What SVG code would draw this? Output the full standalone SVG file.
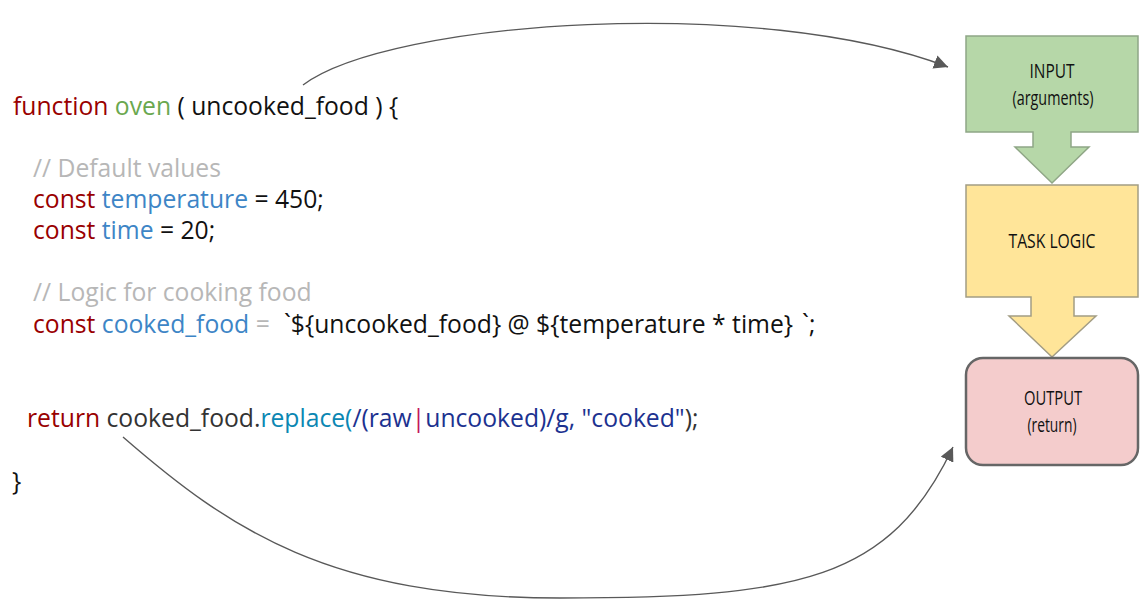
<svg xmlns="http://www.w3.org/2000/svg" width="1146" height="610" viewBox="0 0 1146 610">
<style>
.code{font-family:"Open Sans","DejaVu Sans",sans-serif;font-size:24.7px;fill:#111}
.kw{fill:#990000}.fn{fill:#6aa84f}.id{fill:#3d85c6}.cm{fill:#b7b7b7}.me{fill:#0b87b3}.rx{fill:#1c3290}.pp{fill:#c2185b}.dk{fill:#333}
.lbl{font-family:"Open Sans","Liberation Sans",sans-serif;font-size:20px;fill:#111;text-anchor:middle}
.conn{fill:none;stroke:#595959;stroke-width:1.4}
</style>
<defs>
<marker id="ah" viewBox="0 0 10 10" refX="10" refY="5" markerWidth="14" markerHeight="14" markerUnits="userSpaceOnUse" orient="auto">
<path d="M0,0 L10,5 L0,10 Z" fill="#595959"/>
</marker>
</defs>
<rect width="1146" height="610" fill="#fff"/>
<g id="code">
<text class="code" x="13" y="115"><tspan class="kw">function</tspan> <tspan class="fn">oven</tspan> ( uncooked_food ) {</text>
<text class="code cm" x="33" y="177">// Default values</text>
<text class="code" x="33" y="208"><tspan class="kw">const</tspan> <tspan class="id">temperature</tspan> = 450;</text>
<text class="code" x="33" y="239"><tspan class="kw">const</tspan> <tspan class="id">time</tspan> = 20;</text>
<text class="code cm" x="33" y="301">// Logic for cooking food</text>
<text class="code" x="33" y="333"><tspan class="kw">const</tspan> <tspan class="id">cooked_food</tspan> <tspan class="cm">=</tspan><tspan x="284">`${uncooked_food} @ ${temperature * time}</tspan><tspan dx="9">`;</tspan></text>
<text class="code" x="27" y="427"><tspan class="kw">return</tspan> <tspan class="dk">cooked_food.</tspan><tspan class="me">replace(</tspan><tspan class="rx">/(raw</tspan><tspan class="pp">|</tspan><tspan class="rx">uncooked)/g, "cooked"</tspan><tspan class="dk">);</tspan></text>
<text class="code" x="12" y="490">}</text>
</g>
<g id="input">
<path d="M966,36 H1138 V132 H1071 V147 H1089 L1052,183 L1015,147 H1033 V132 H966 Z" fill="#b6d7a8" stroke="#8fa686" stroke-width="1.5"/>
<text class="lbl" x="1052" y="78" textLength="45" lengthAdjust="spacingAndGlyphs">INPUT</text>
<text class="lbl" x="1053" y="105" textLength="81" lengthAdjust="spacingAndGlyphs">(arguments)</text>
</g>
<g id="task">
<path d="M966,185 H1138 V297 H1074 V316 H1096 L1052,357 L1009,316 H1031 V297 H966 Z" fill="#ffe599" stroke="#a39d84" stroke-width="1.5"/>
<text class="lbl" x="1052" y="248" textLength="87" lengthAdjust="spacingAndGlyphs">TASK LOGIC</text>
</g>
<g id="output">
<rect x="966" y="358" width="172" height="107" rx="17" fill="#f4cccc" stroke="#666" stroke-width="2.5"/>
<text class="lbl" x="1053" y="405" textLength="58" lengthAdjust="spacingAndGlyphs">OUTPUT</text>
<text class="lbl" x="1052" y="432" textLength="49" lengthAdjust="spacingAndGlyphs">(return)</text>
</g>
<g id="connectors">
<path class="conn" d="M303,85 C390,20 760,-5 948,67" marker-end="url(#ah)"/>
<path class="conn" d="M123,437 C230,530 330,598 560,598 C800,598 890,580 953,447" marker-end="url(#ah)"/>
</g>
</svg>
